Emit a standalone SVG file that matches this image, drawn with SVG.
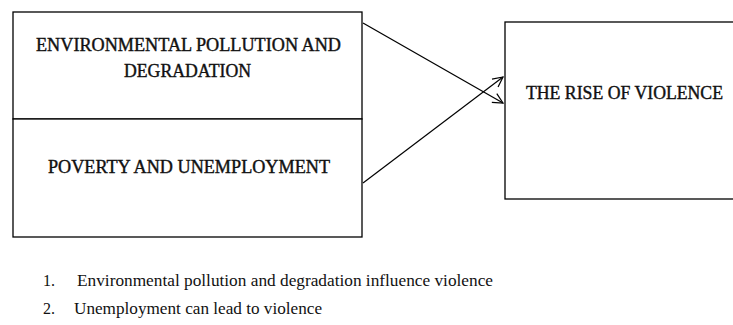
<svg xmlns="http://www.w3.org/2000/svg" width="733" height="325" viewBox="0 0 733 325">
<style>
.box{fill:#fff;stroke:#000;stroke-width:1.3}
.t{font-family:'Liberation Serif','Times New Roman',serif;font-size:18px;fill:#111;stroke:#111;stroke-width:0.4}
.n{font-family:'Liberation Serif','Times New Roman',serif;font-size:16px;fill:#111}
.c{stroke:#000;stroke-width:1.2;fill:none}
</style>
<defs>
<marker id="a" viewBox="0 0 12 12" refX="11" refY="6" markerWidth="12" markerHeight="12" markerUnits="userSpaceOnUse" orient="auto">
<path d="M1,1 L11,6 L1,11" fill="none" stroke="#000" stroke-width="1.2"/>
</marker>
</defs>
<rect width="733" height="325" fill="#fff"/>
<g id="node-env">
<rect class="box" x="13" y="12" width="349" height="107"/>
<text class="t" x="36" y="51" textLength="305" lengthAdjust="spacingAndGlyphs">ENVIRONMENTAL POLLUTION AND</text>
<text class="t" x="124" y="77" textLength="127" lengthAdjust="spacingAndGlyphs">DEGRADATION</text>
</g>
<g id="node-pov">
<rect class="box" x="13" y="119" width="349" height="118"/>
<text class="t" x="48" y="173" textLength="282" lengthAdjust="spacingAndGlyphs">POVERTY AND UNEMPLOYMENT</text>
</g>
<g id="node-vio">
<rect class="box" x="505" y="22" width="240" height="177"/>
<text class="t" x="526" y="99" textLength="197" lengthAdjust="spacingAndGlyphs">THE RISE OF VIOLENCE</text>
</g>
<g id="connectors">
<line class="c" x1="363" y1="23" x2="503" y2="103" marker-end="url(#a)"/>
<line class="c" x1="363" y1="183" x2="503" y2="77" marker-end="url(#a)"/>
</g>
<g id="notes">
<text class="n" x="43" y="286">1.</text>
<text class="n" x="77" y="286" textLength="416" lengthAdjust="spacingAndGlyphs">Environmental pollution and degradation influence violence</text>
<text class="n" x="43" y="314">2.</text>
<text class="n" x="74" y="314" textLength="248" lengthAdjust="spacingAndGlyphs">Unemployment can lead to violence</text>
</g>
</svg>
